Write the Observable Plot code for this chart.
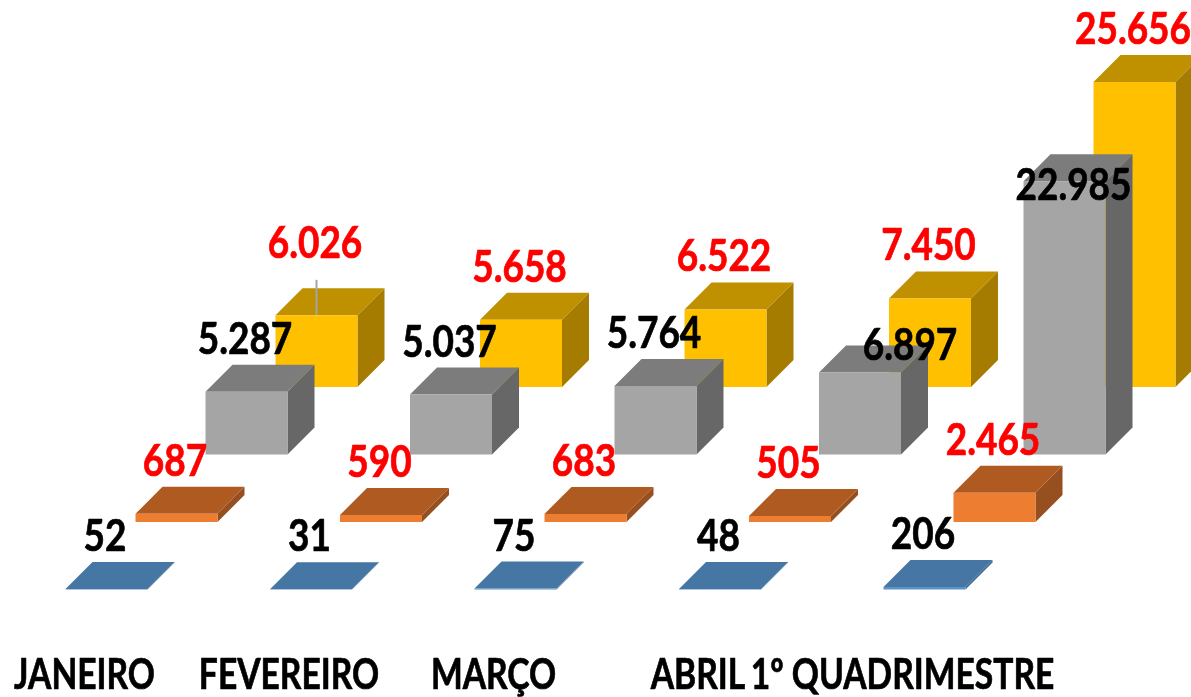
<!DOCTYPE html>
<html>
<head>
<meta charset="utf-8">
<script src="https://cdn.jsdelivr.net/npm/d3@7"></script>
<script src="https://cdn.jsdelivr.net/npm/@observablehq/plot@0.6"></script>
<style>
html,body{margin:0;padding:0;background:#fff}
svg{display:block;filter:blur(.55px)}
</style>
</head>
<body>
<div id="chart"></div>
<script>
const categories = ["JANEIRO", "FEVEREIRO", "MARÇO", "ABRIL", "1º QUADRIMESTRE"];
const seriesA = [52, 31, 75, 48, 206];
const seriesB = [687, 590, 683, 505, 2465];
const seriesC = [5287, 5037, 5764, 6897, 22985];
const seriesD = [6026, 5658, 6522, 7450, 25656];
const allSeries = [seriesA, seriesB, seriesC, seriesD];

const faceColors = [
  {front: "#5a93c8", top: "#4676a3", side: "#3f6b94"},
  {front: "#ed7d31", top: "#ae5a21", side: "#964f1e"},
  {front: "#a5a5a5", top: "#7c7c7c", side: "#676767"},
  {front: "#ffc000", top: "#bf9000", side: "#a67c00"}
];
const labelColors = ["#000", "#ff0000", "#000", "#ff0000"];

// Oblique projection, in pixels per unit
const pxPerCategory = 204.5, pxPerValue = 0.01189;
const barW = 82 / pxPerCategory, depthX = 27 / pxPerCategory, depthY = 27 / pxPerValue;
const stepX = 70 / pxPerCategory, stepY = 67.5 / pxPerValue;
const originX = 65, originY = 589;
const W = 1191, H = 697;

// Manually moved labels: [series, category, lift px, shift px]
const defaultLift = 38, defaultShift = -1.5;
const movedLabels = [[3, 0, 57, -1.5], [2, 3, 12, 50], [2, 4, -19, 9]];
const axisShift = -22 / pxPerCategory, axisDrop = -99 / pxPerValue;
const labelSqueeze = 0.86, axisSqueeze = 0.80;

const polys = [];
let id = 0;
for (let s = 3; s >= 0; s--) {
  allSeries[s].forEach((v, c) => {
    const x0 = c + s * stepX, x1 = x0 + barW, y0 = s * stepY, y1 = y0 + v;
    const add = (color, pts) => {
      id++;
      pts.forEach(([x, y]) => polys.push({id, x, y, color}));
    };
    add(faceColors[s].side, [[x1, y0], [x1 + depthX, y0 + depthY], [x1 + depthX, y1 + depthY], [x1, y1]]);
    add(faceColors[s].top, [[x0, y1], [x1, y1], [x1 + depthX, y1 + depthY], [x0 + depthX, y1 + depthY]]);
    add(faceColors[s].front, [[x0, y0], [x1, y0], [x1, y1], [x0, y1]]);
  });
}

const labels = allSeries.flatMap((vals, s) => vals.map((v, c) => {
  const m = movedLabels.find(d => d[0] === s && d[1] === c);
  const lift = m ? m[2] : defaultLift, shift = m ? m[3] : defaultShift;
  return {
    x: c + s * stepX + barW / 2 + shift / pxPerCategory,
    y: s * stepY + v + lift / pxPerValue,
    text: d3.format(",")(v).replace(/,/g, "."),
    color: labelColors[s]
  };
}));

const leader = [{
  x: 3 * stepX + barW / 2,
  y1: 3 * stepY + seriesD[0],
  y2: 3 * stepY + seriesD[0] + 35 / pxPerValue
}];

const axisLabels = categories.map((name, c) => ({
  name, x: c + barW / 2 + axisShift, y: axisDrop
}));

const font = "Lato,'Liberation Sans',sans-serif";

const chart = Plot.plot({
  width: W, height: H,
  margin: 0,
  x: {domain: [-originX / pxPerCategory, (W - originX) / pxPerCategory], range: [0, W], axis: null},
  y: {domain: [(originY - H) / pxPerValue, originY / pxPerValue], range: [H, 0], axis: null},
  color: {type: "identity"},
  marks: [
    Plot.line(polys, {x: "x", y: "y", z: "id", fill: "color", stroke: "none"}),
    Plot.ruleX(leader, {x: "x", y1: "y1", y2: "y2", stroke: "#a5a5a5", strokeWidth: 2}),
    Plot.text(labels, {x: "x", y: "y", text: "text", fill: "color", stroke: "color", strokeWidth: 0.7,
      lineAnchor: "bottom", textAnchor: "middle", fontFamily: font, fontSize: 43, fontWeight: 700, className: "val"}),
    Plot.text(axisLabels, {x: "x", y: "y", text: "name", fill: "#000", stroke: "#000", strokeWidth: 0.7,
      lineAnchor: "bottom", textAnchor: "middle", fontFamily: font, fontSize: 42, fontWeight: 700, className: "cat"})
  ]
});
document.getElementById("chart").append(chart);
// Reference type is tall and narrow: condense the glyphs of each label
const squeeze = (sel, k) => chart.querySelectorAll(sel).forEach(t => {
  t.setAttribute("textLength", (t.getComputedTextLength() * k).toFixed(1));
  t.setAttribute("lengthAdjust", "spacingAndGlyphs");
});
squeeze(".val text", labelSqueeze);
squeeze(".cat text", axisSqueeze);
</script>
</body>
</html>
